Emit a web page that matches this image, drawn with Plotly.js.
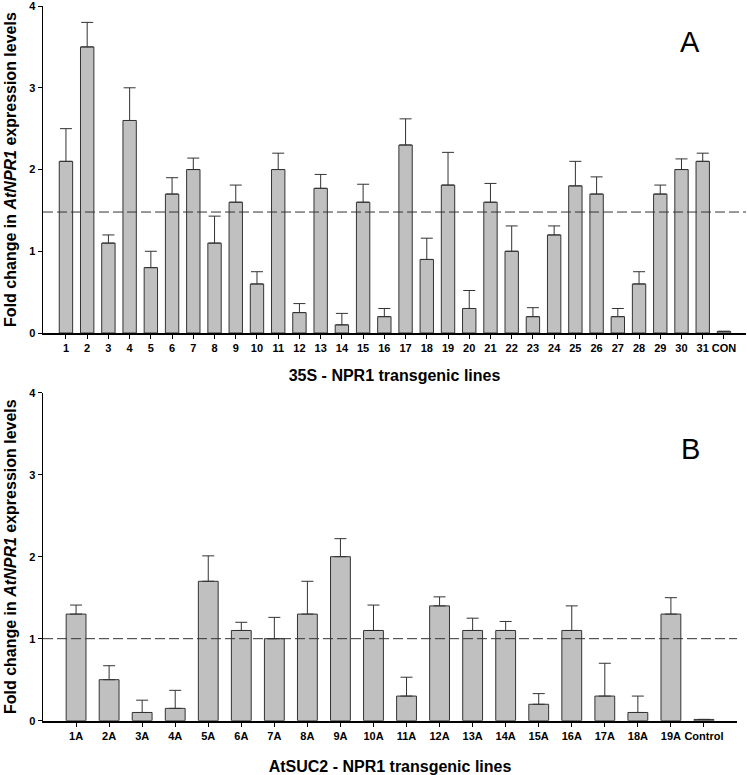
<!DOCTYPE html>
<html>
<head>
<meta charset="utf-8">
<script src="https://cdn.plot.ly/plotly-3.0.1.min.js"></script>
<style>html,body{margin:0;padding:0;background:#fff;}#chart{width:747px;height:775px;}</style>
</head>
<body>
<div id="chart"></div>
<script>
// Panel A: 35S - NPR1 transgenic lines
var linesA = ["1","2","3","4","5","6","7","8","9","10","11","12","13","14","15","16","17","18","19","20","21","22","23","24","25","26","27","28","29","30","31","CON"];
var foldA  = [2.10,3.50,1.10,2.60,0.80,1.70,2.00,1.10,1.60,0.60,2.00,0.25,1.77,0.10,1.60,0.20,2.30,0.90,1.81,0.30,1.60,1.00,0.20,1.20,1.80,1.70,0.20,0.60,1.70,2.00,2.10,0.02];
var errA   = [0.40,0.30,0.10,0.40,0.20,0.20,0.14,0.33,0.21,0.15,0.20,0.11,0.17,0.14,0.22,0.10,0.32,0.26,0.40,0.22,0.23,0.31,0.11,0.11,0.30,0.21,0.10,0.15,0.11,0.13,0.10,null];
var thresholdA = 1.48;

// Panel B: AtSUC2 - NPR1 transgenic lines
var linesB = ["1A","2A","3A","4A","5A","6A","7A","8A","9A","10A","11A","12A","13A","14A","15A","16A","17A","18A","19A","Control"];
var foldB  = [1.30,0.50,0.10,0.15,1.70,1.10,1.00,1.30,2.00,1.10,0.30,1.40,1.10,1.10,0.20,1.10,0.30,0.10,1.30,0.015];
var errB   = [0.11,0.17,0.15,0.22,0.31,0.10,0.26,0.40,0.22,0.31,0.23,0.11,0.15,0.11,0.13,0.30,0.40,0.20,0.20,null];
var thresholdB = 1.00;

var yTicks = [0,1,2,3,4];

var FONT = "Liberation Sans, Arial, sans-serif";
var barFill = "#c0c0c0";
var barEdge = "#333333";

function barTrace(x, y, e, xa, ya, w) {
  return {
    type: "bar", x: x, y: y, xaxis: xa, yaxis: ya, width: w,
    marker: {color: barFill, line: {color: barEdge, width: 1}},
    error_y: {type: "data", symmetric: false, array: e, arrayminus: e.map(function(){return 0;}),
              color: barEdge, thickness: 1, width: 6, visible: true},
    hoverinfo: "x+y", showlegend: false
  };
}

var yTitle = "Fold change in <i>AtNPR1</i> expression levels";

function xAxis(dom, rng, anchor, title, standoff) {
  return {
    domain: dom, range: rng, anchor: anchor, type: "category",
    showline: true, linecolor: "#000", linewidth: 2,
    ticks: "outside", ticklen: 4, tickwidth: 1, tickcolor: "#000",
    tickfont: {family: FONT, size: 11, color: "#000", weight: "bold"},
    showgrid: false, zeroline: false, fixedrange: true,
    title: {text: title, font: {family: FONT, size: 16, color: "#000", weight: "bold"}, standoff: standoff}
  };
}
function yAxis(dom, anchor) {
  return {
    domain: dom, range: [0, 4], anchor: anchor,
    tickvals: yTicks, ticktext: yTicks.map(String),
    showline: true, linecolor: "#000", linewidth: 1.5,
    ticks: "outside", ticklen: 4, tickwidth: 1, tickcolor: "#000",
    tickfont: {family: FONT, size: 11, color: "#000", weight: "bold"},
    ticklabeloverflow: "allow",
    showgrid: false, zeroline: false, fixedrange: true,
    title: {text: yTitle, font: {family: FONT, size: 16, color: "#000", weight: "bold"}, standoff: 8}
  };
}

var data = [
  barTrace(linesA, foldA, errA, "x", "y", 0.63),
  barTrace(linesB, foldB, errB, "x2", "y2", 0.6)
];

var layout = {
  width: 747, height: 775, autosize: false,
  margin: {l: 0, r: 0, t: 0, b: 0, pad: 0},
  paper_bgcolor: "#fff", plot_bgcolor: "#fff",
  font: {family: FONT, color: "#000"},
  xaxis: xAxis([0.0576, 0.9987], [-1.08, 32.04], "y", "35S - NPR1 transgenic lines", 17),
  yaxis: yAxis([0.5703, 0.9922], "x"),
  xaxis2: xAxis([0.0576, 0.9866], [-1.0, 20.0], "y2", "AtSUC2 - NPR1 transgenic lines", 21),
  yaxis2: yAxis([0.0701, 0.4933], "x2"),
  shapes: [
    {type: "line", xref: "x domain", yref: "y", x0: 0, x1: 1, y0: thresholdA, y1: thresholdA,
     line: {color: "#333", width: 1, dash: "10px,4px"}, layer: "above"},
    {type: "line", xref: "x2 domain", yref: "y2", x0: 0, x1: 1, y0: thresholdB, y1: thresholdB,
     line: {color: "#333", width: 1, dash: "10px,4px"}, layer: "above"}
  ],
  annotations: [
    {text: "A", xref: "paper", yref: "paper", x: 690/747, y: 1 - 42/775, xanchor: "center", yanchor: "middle",
     showarrow: false, font: {family: FONT, size: 29, color: "#000"}},
    {text: "B", xref: "paper", yref: "paper", x: 690/747, y: 1 - 449/775, xanchor: "center", yanchor: "middle",
     showarrow: false, font: {family: FONT, size: 29, color: "#000"}}
  ]
};

Plotly.newPlot("chart", data, layout, {displayModeBar: false, staticPlot: true});
</script>
</body>
</html>
